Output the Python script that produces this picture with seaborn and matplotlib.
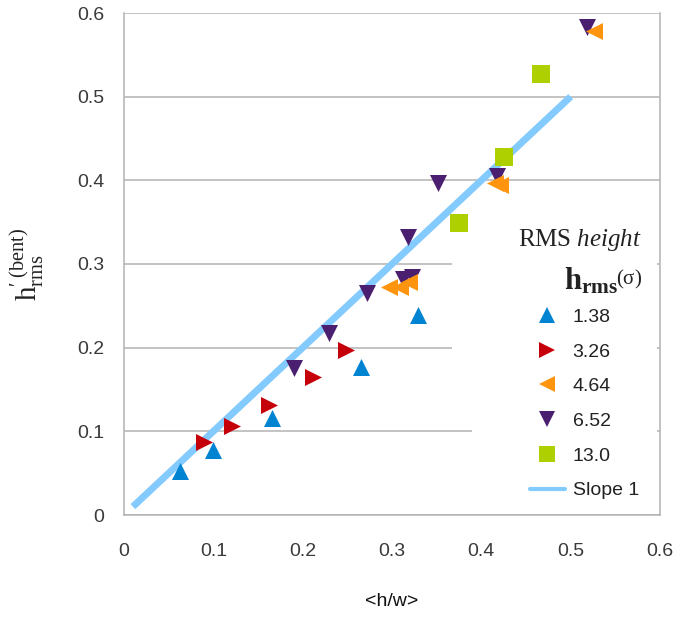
import matplotlib
matplotlib.use("Agg")
import matplotlib.pyplot as plt
import seaborn as sns
import pandas as pd
from matplotlib.lines import Line2D
from matplotlib.patches import Rectangle

# ---- data ----
series_names = ["1.38", "3.26", "4.64", "6.52", "13.0"]
x_138 = [0.063, 0.100, 0.166, 0.265, 0.329]
y_138 = [0.053, 0.078, 0.116, 0.177, 0.239]
x_326 = [0.089, 0.121, 0.162, 0.212, 0.248]
y_326 = [0.087, 0.106, 0.131, 0.165, 0.197]
x_464 = [0.297, 0.309, 0.319, 0.415, 0.421, 0.526]
y_464 = [0.272, 0.273, 0.279, 0.397, 0.394, 0.579]
x_652 = [0.190, 0.230, 0.272, 0.312, 0.322, 0.318, 0.352, 0.418, 0.518]
y_652 = [0.176, 0.217, 0.265, 0.282, 0.285, 0.332, 0.397, 0.405, 0.583]
x_130 = [0.375, 0.425, 0.467]
y_130 = [0.349, 0.428, 0.527]
slope_x = [0.01, 0.50]
slope_y = [0.01, 0.50]
xticks = [0, 0.1, 0.2, 0.3, 0.4, 0.5, 0.6]
yticks = [0, 0.1, 0.2, 0.3, 0.4, 0.5, 0.6]
tick_labels = ["0", "0.1", "0.2", "0.3", "0.4", "0.5", "0.6"]

colors = {"1.38": "#0084d1", "3.26": "#c5000b", "4.64": "#ff950e",
          "6.52": "#4b1f6f", "13.0": "#aecf00"}
markers = {"1.38": "^", "3.26": ">", "4.64": "<", "6.52": "v", "13.0": "s"}

frames = []
for name, xs, ys in [("1.38", x_138, y_138), ("3.26", x_326, y_326),
                     ("6.52", x_652, y_652), ("4.64", x_464, y_464),
                     ("13.0", x_130, y_130)]:
    frames.append(pd.DataFrame({"x": xs, "y": ys, "series": name}))
df = pd.concat(frames, ignore_index=True)
line_df = pd.DataFrame({"x": slope_x, "y": slope_y})

sns.set_style("white")
plt.rcParams["font.family"] = ["Liberation Sans", "DejaVu Sans"]
plt.rcParams["mathtext.fontset"] = "custom"
plt.rcParams["mathtext.rm"] = "Liberation Serif"
plt.rcParams["mathtext.it"] = "Liberation Serif:italic"
plt.rcParams["mathtext.bf"] = "Liberation Serif:bold"

fig = plt.figure(figsize=(6.8, 6.18), dpi=100)
ax = fig.add_axes([124/680, 1-515/618, (660-124)/680, (515-13)/618])

sns.lineplot(data=line_df, x="x", y="y", ax=ax, color="#83caff", linewidth=5,
             legend=False, zorder=2, solid_capstyle="butt")
for name in ["6.52", "4.64", "13.0", "1.38", "3.26"]:
    sub = df[df["series"] == name]
    sns.scatterplot(data=sub, x="x", y="y", ax=ax, color=colors[name],
                    marker=markers[name], s=150 if name != "13.0" else 170,
                    linewidth=0, legend=False, zorder=3)

ax.set_xlim(0, 0.6)
ax.set_ylim(0, 0.6)
ax.set_xticks(xticks)
ax.set_xticklabels(tick_labels)
ax.set_yticks(yticks)
ax.set_yticklabels(tick_labels)
ax.yaxis.grid(True, color="#b3b3b3", linewidth=1.1, zorder=0)
ax.xaxis.grid(False)
ax.set_axisbelow(True)
for side in ["left", "bottom", "right"]:
    ax.spines[side].set_color("#b3b3b3")
    ax.spines[side].set_linewidth(1.1)
ax.spines["top"].set_visible(False)
ax.tick_params(axis="both", direction="out", length=6, width=1.1,
               color="#b3b3b3", labelsize=14, labelcolor="#3a3a3a", pad=8)
ax.tick_params(axis="x", pad=14)

ax.set_xlabel("<h/w>", fontsize=14, labelpad=24, color="#111111")
ax.set_ylabel(r"$\mathrm{h}^{\prime\;(\mathrm{bent})}_{\mathrm{rms}}$",
              fontsize=21, color="#222222")
ax.yaxis.set_label_coords(-0.145, 0.5)

# white legend area covering the gridlines
ax.add_patch(Rectangle((0.612, 0.2), 0.382, 0.398, transform=ax.transAxes,
                       facecolor="white", edgecolor="none", zorder=1))
ax.add_patch(Rectangle((0.65, 0.03), 0.344, 0.18, transform=ax.transAxes,
                       facecolor="white", edgecolor="none", zorder=1))

# legend title (two lines, right-aligned)
ax.text(0.966, 0.548, r"$\mathrm{RMS}\ \mathit{height}$", transform=ax.transAxes,
        ha="right", va="center", fontsize=18, color="#222222", zorder=6)
ax.text(0.922, 0.466, r"$\mathbf{h}_{\mathbf{rms}}$", transform=ax.transAxes,
        ha="right", va="center", fontsize=22, color="#222222", zorder=6)
ax.text(0.966, 0.47, r"$\mathrm{(\sigma)}$", transform=ax.transAxes,
        ha="right", va="center", fontsize=15, color="#222222", zorder=6)

handles = [Line2D([0], [0], marker=markers[n], color=colors[n], linestyle="",
                  markersize=11, markeredgewidth=0) for n in series_names]
handles.append(Line2D([0], [0], color="#83caff", linewidth=3))
labels = series_names + ["Slope 1"]
leg = ax.legend(handles, labels, loc="upper left",
                bbox_to_anchor=(0.757, 0.412), frameon=False, fontsize=14,
                handlelength=1.8, handletextpad=0.4, labelspacing=0.88,
                borderpad=0, borderaxespad=0)
leg.set_zorder(6)
for t in leg.get_texts():
    t.set_color("#222222")

fig.savefig("out.png", dpi=100)
